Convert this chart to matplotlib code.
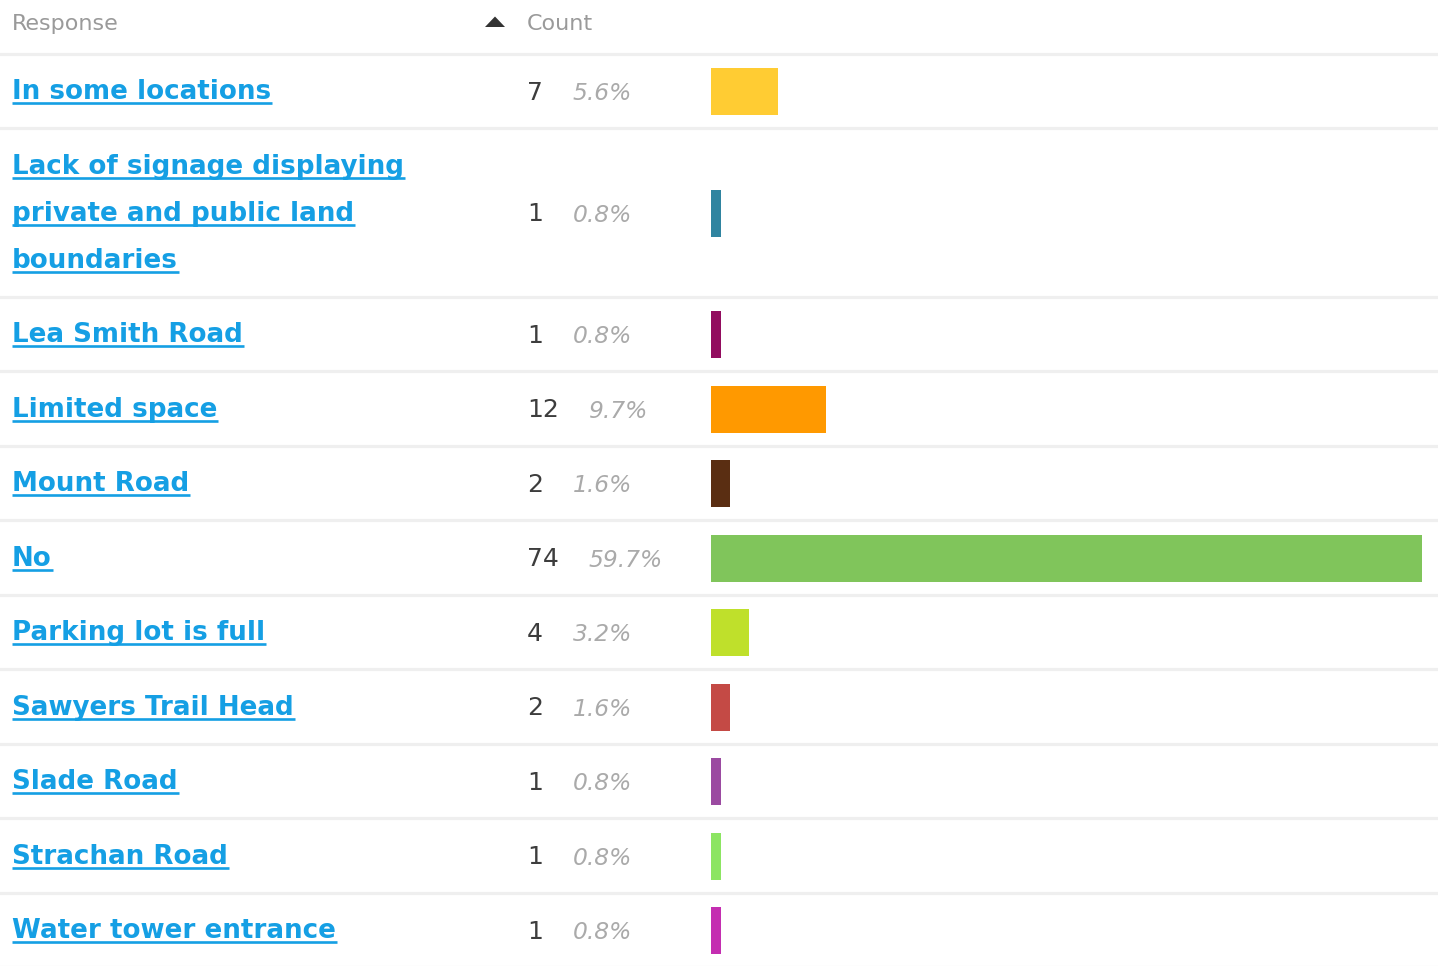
import matplotlib
matplotlib.use("Agg")
import matplotlib.pyplot as plt
from matplotlib.patches import Polygon

responses = ["In some locations",
             "Lack of signage displaying\nprivate and public land\nboundaries",
             "Lea Smith Road", "Limited space", "Mount Road", "No",
             "Parking lot is full", "Sawyers Trail Head", "Slade Road",
             "Strachan Road", "Water tower entrance"]
counts = [7, 1, 1, 12, 2, 74, 4, 2, 1, 1, 1]
percents = ["5.6%", "0.8%", "0.8%", "9.7%", "1.6%", "59.7%", "3.2%",
            "1.6%", "0.8%", "0.8%", "0.8%"]
colors = ["#ffcc33", "#2f84a0", "#920c5f", "#ff9900", "#5a2e12", "#80c55b",
          "#bfe02b", "#c44a45", "#9b4aa1", "#8ce562", "#c42eb1"]

W, H = 1438, 966
fig = plt.figure(figsize=(W / 100, H / 100), dpi=100)
ax = fig.add_axes([0, 0, 1, 1])
ax.set_xlim(0, W)
ax.set_ylim(H, 0)
ax.axis("off")

link = "#159fe4"
sep = "#efefef"

# header
header_h = 53.5
ax.text(12, 30, "Response", fontsize=16, color="#9a9a9a", va="baseline")
ax.text(527, 30, "Count", fontsize=16, color="#9a9a9a", va="baseline")
ax.add_patch(Polygon([[485, 27], [505, 27], [495, 16.5]], closed=True,
                     color="#333333", lw=0))
ax.axhline(header_h, color=sep, lw=2.3)

# row layout
line_h = 47
heights = [74.5 + (r.count("\n")) * line_h for r in responses]
centers = []
y = header_h
for h in heights:
    centers.append(y + h / 2)
    y += h
    ax.axhline(y, color=sep, lw=2.3)

label_texts = []
count_texts = []
for r, c, cy in zip(responses, counts, centers):
    lines = r.split("\n")
    n = len(lines)
    for i, ln in enumerate(lines):
        ly = cy + (i - (n - 1) / 2) * line_h
        t = ax.text(12, ly + 8.5, ln, fontsize=18.8, fontweight="bold",
                    color=link, va="baseline")
        label_texts.append((t, ly + 8.5))
    ct = ax.text(527, cy + 9, str(c), fontsize=18, color="#3d3d3d",
                 va="baseline")
    count_texts.append(ct)

fig.canvas.draw()
inv = ax.transData.inverted()
for t, base in label_texts:
    bb = t.get_window_extent()
    x0 = inv.transform((bb.x0, bb.y0))[0]
    x1 = inv.transform((bb.x1, bb.y0))[0]
    ax.plot([x0, x1 + 1], [base + 4, base + 4], color=link, lw=1.9,
            solid_capstyle="butt")
for ct, p, cy in zip(count_texts, percents, centers):
    bb = ct.get_window_extent()
    x1 = inv.transform((bb.x1, bb.y0))[0]
    ax.text(x1 + 30, cy + 9.5, p, fontsize=16.8, style="italic",
            color="#aaaaaa", va="baseline")

# bars
bax = fig.add_axes([711 / W, 0, (1422 - 711) / W, 1])
bax.set_xlim(0, max(counts))
bax.set_ylim(H, 0)
bax.axis("off")
bax.patch.set_alpha(0)
bax.barh([c + 0.8 for c in centers], counts, height=47, color=colors)

fig.savefig("out.png", dpi=100)
